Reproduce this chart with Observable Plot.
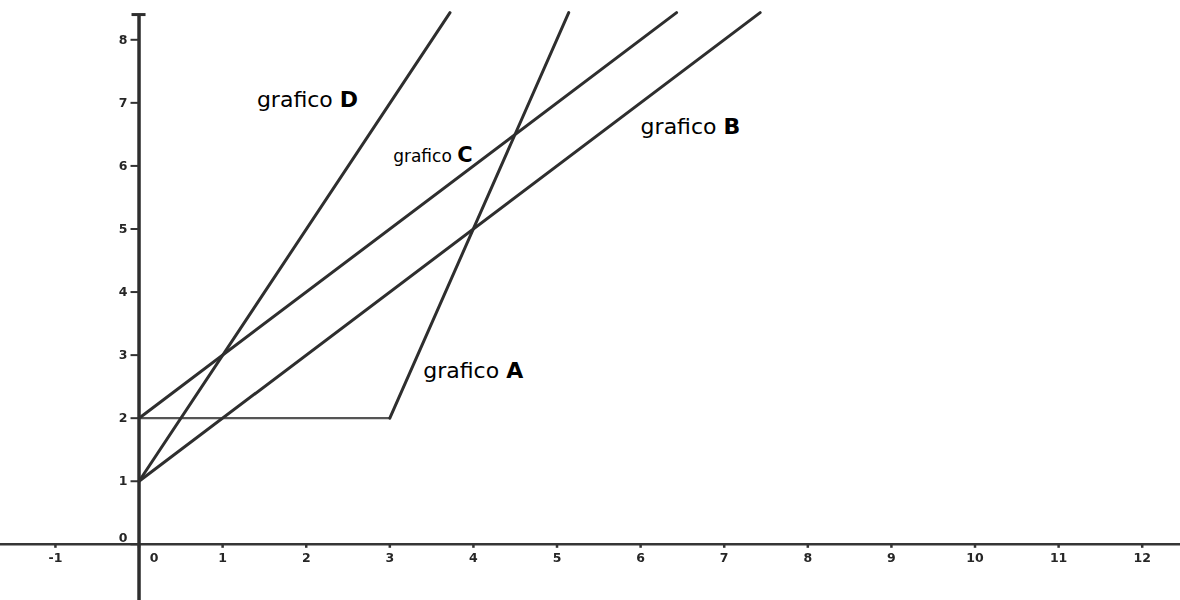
<!DOCTYPE html>
<html>
<head>
<meta charset="utf-8">
<script src="https://cdn.jsdelivr.net/npm/d3@7"></script>
<script src="https://cdn.jsdelivr.net/npm/@observablehq/plot@0.6"></script>
<style>
  html, body { margin: 0; padding: 0; background: #fff; }
  #chart { width: 1180px; height: 600px; overflow: hidden; }
</style>
</head>
<body>
<div id="chart"></div>
<script>
// Axis ticks
const xTicks = [-1, 0, 1, 2, 3, 4, 5, 6, 7, 8, 9, 10, 11, 12];
const yTicks = [0, 1, 2, 3, 4, 5, 6, 7, 8];

// Visible window of the cartesian plane
const xDomain = [-1.657, 12.458];
const yDomain = [-0.891, 8.623];
const yAxisTop = 8.4;

// The four graphs (vertices of each polyline)
const graphA_x = [0, 3, 5.14];
const graphA_y = [2, 2, 8.43];
const graphB_x = [0, 7.43];
const graphB_y = [1, 8.43];
const graphC_x = [0, 6.43];
const graphC_y = [2, 8.43];
const graphD_x = [0, 3.72];
const graphD_y = [1, 8.43];

// Labels of the graphs
const graphNames = ["A", "B", "C", "D"];
const labelX = [3.40, 6.00, 3.04, 1.41];
const labelY = [2.63, 6.51, 6.07, 6.93];

// Split each polyline into its segments
const toSegments = (xs, ys, name) => xs.slice(1).map((x, i) => ({
  name, x1: xs[i], y1: ys[i], x2: x, y2: ys[i + 1]
}));
const segments = [
  ...toSegments(graphA_x, graphA_y, "A"),
  ...toSegments(graphB_x, graphB_y, "B"),
  ...toSegments(graphC_x, graphC_y, "C"),
  ...toSegments(graphD_x, graphD_y, "D")
];
const labels = graphNames.map((name, i) => ({name, x: labelX[i], y: labelY[i]}));

const ink = "#2e2e2e";
const tickFont = {fontFamily: "DejaVu Sans", fontWeight: "bold", fontSize: 12.5, fill: "#262626"};

const chart = Plot.plot({
  width: 1180,
  height: 600,
  margin: 0,
  x: {domain: xDomain, axis: null},
  y: {domain: yDomain, axis: null},
  marks: [
    // x axis line and its ticks
    Plot.ruleY([0], {stroke: "#353535", strokeWidth: 2.4}),
    Plot.ruleX(xTicks, {x: d => d, y1: 0, y2: 0, insetBottom: -4, stroke: "#333", strokeWidth: 2.5}),
    // y axis with its flat cap and ticks
    Plot.ruleX([0], {x: d => d, y1: yDomain[0], y2: yAxisTop, stroke: ink, strokeWidth: 3.5}),
    Plot.ruleY([yAxisTop], {y: d => d, x1: 0, x2: 0, insetLeft: -7, insetRight: -7, stroke: ink, strokeWidth: 3}),
    Plot.ruleY(yTicks, {y: d => d, x1: 0, x2: 0, insetLeft: -8, stroke: "#333", strokeWidth: 2}),
    // tick labels
    Plot.text(xTicks.filter(d => d !== 0), {x: d => d, y: 0, dy: 14, text: d => String(d), ...tickFont}),
    Plot.text([0], {x: d => d, y: 0, dx: 15, dy: 14, text: d => String(d), ...tickFont}),
    Plot.text(yTicks.filter(d => d !== 0), {x: 0, y: d => d, dx: -16, text: d => String(d), ...tickFont}),
    Plot.text([0], {x: 0, y: d => d, dx: -16, dy: -6, text: d => String(d), ...tickFont}),
    // the graphs: the flat stretch of A is finer than the sloped strokes
    Plot.link(segments, {
      x1: "x1", y1: "y1", x2: "x2", y2: "y2",
      stroke: d => d.y1 === d.y2 ? "#555" : ink,
      strokeWidth: d => d.y1 === d.y2 ? 2.2 : 3,
      strokeLinecap: "round"
    }),
    // graph names
    Plot.text(labels, {
      x: "x", y: "y",
      text: d => "grafico " + d.name,
      textAnchor: "start",
      lineAnchor: "bottom",
      fontFamily: "DejaVu Sans",
      fontSize: d => d.name === "C" ? 17 : 22,
      fill: "#000",
      stroke: "white",
      strokeWidth: 4,
      paintOrder: "stroke"
    })
  ]
});

const svg = d3.select(chart);
// Graph letters are set in bold after the word "grafico"
svg.selectAll("text").filter(function () {
  return this.textContent.startsWith("grafico ");
}).each(function () {
  const name = this.textContent.slice(8);
  const t = d3.select(this).text("grafico ");
  t.append("tspan")
    .attr("font-weight", "bold")
    .attr("font-size", name === "C" ? 21 : 22)
    .text(name);
});
// Soft rendering of the drawn strokes and the small tick digits
svg.selectAll("g[aria-label='link'], g[aria-label='rule']").style("filter", "blur(0.55px)");
svg.selectAll("g[aria-label='text']").filter(function () {
  return !this.textContent.includes("grafico");
}).style("filter", "blur(0.6px)");

document.getElementById("chart").appendChild(chart);
</script>
</body>
</html>
